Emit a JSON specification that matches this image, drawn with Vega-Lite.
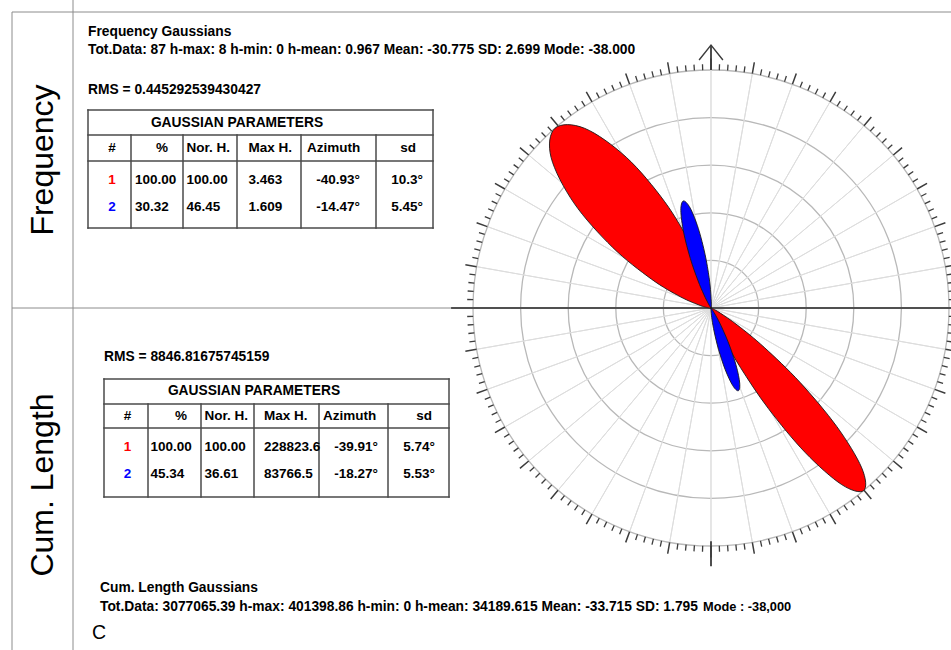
{
  "$schema": "https://vega.github.io/schema/vega-lite/v6.json",
  "width": 951,
  "height": 650,
  "padding": 0,
  "autosize": {"type": "none"},
  "background": "#ffffff",
  "config": {"view": {"stroke": null}, "text": {"font": "Liberation Sans", "color": "#000000"}},
  "datasets": {
    "frame": [
      {"x0": 0, "x1": 0, "y0": 1, "y1": 3},
      {"x0": 1, "x1": 1, "y0": 0, "y1": 3},
      {"x0": 0, "x1": 2, "y0": 1, "y1": 1},
      {"x0": 0, "x1": 2, "y0": 2, "y1": 2}
    ],
    "rings": [{"r": 20}, {"r": 40}, {"r": 60}, {"r": 80}, {"r": 100}],
    "angles": [
      {"a":0},{"a":2},{"a":4},{"a":6},{"a":8},{"a":10},{"a":12},{"a":14},{"a":16},{"a":18},
      {"a":20},{"a":22},{"a":24},{"a":26},{"a":28},{"a":30},{"a":32},{"a":34},{"a":36},{"a":38},
      {"a":40},{"a":42},{"a":44},{"a":46},{"a":48},{"a":50},{"a":52},{"a":54},{"a":56},{"a":58},
      {"a":60},{"a":62},{"a":64},{"a":66},{"a":68},{"a":70},{"a":72},{"a":74},{"a":76},{"a":78},
      {"a":80},{"a":82},{"a":84},{"a":86},{"a":88},{"a":90},{"a":92},{"a":94},{"a":96},{"a":98},
      {"a":100},{"a":102},{"a":104},{"a":106},{"a":108},{"a":110},{"a":112},{"a":114},{"a":116},{"a":118},
      {"a":120},{"a":122},{"a":124},{"a":126},{"a":128},{"a":130},{"a":132},{"a":134},{"a":136},{"a":138},
      {"a":140},{"a":142},{"a":144},{"a":146},{"a":148},{"a":150},{"a":152},{"a":154},{"a":156},{"a":158},
      {"a":160},{"a":162},{"a":164},{"a":166},{"a":168},{"a":170},{"a":172},{"a":174},{"a":176},{"a":178},
      {"a":180},{"a":182},{"a":184},{"a":186},{"a":188},{"a":190},{"a":192},{"a":194},{"a":196},{"a":198},
      {"a":200},{"a":202},{"a":204},{"a":206},{"a":208},{"a":210},{"a":212},{"a":214},{"a":216},{"a":218},
      {"a":220},{"a":222},{"a":224},{"a":226},{"a":228},{"a":230},{"a":232},{"a":234},{"a":236},{"a":238},
      {"a":240},{"a":242},{"a":244},{"a":246},{"a":248},{"a":250},{"a":252},{"a":254},{"a":256},{"a":258},
      {"a":260},{"a":262},{"a":264},{"a":266},{"a":268},{"a":270},{"a":272},{"a":274},{"a":276},{"a":278},
      {"a":280},{"a":282},{"a":284},{"a":286},{"a":288},{"a":290},{"a":292},{"a":294},{"a":296},{"a":298},
      {"a":300},{"a":302},{"a":304},{"a":306},{"a":308},{"a":310},{"a":312},{"a":314},{"a":316},{"a":318},
      {"a":320},{"a":322},{"a":324},{"a":326},{"a":328},{"a":330},{"a":332},{"a":334},{"a":336},{"a":338},
      {"a":340},{"a":342},{"a":344},{"a":346},{"a":348},{"a":350},{"a":352},{"a":354},{"a":356},{"a":358}
    ],
    "arrow": [
      {"i": 0, "x": -5.0, "y": 104.2},
      {"i": 1, "x": 0.0, "y": 110.5},
      {"i": 2, "x": 5.0, "y": 104.2}
    ],
    "axisLine": [{"x0": -109.2, "x1": 100.84}],
    "petals": [
      {"p":"f1","i":0,"x":0,"y":0},
      {"p":"f1","i":1,"x":-1.105,"y":0.108},
      {"p":"f1","i":2,"x":-4.281,"y":0.974},
      {"p":"f1","i":3,"x":-12.709,"y":4.643},
      {"p":"f1","i":4,"x":-25.01,"y":12.13},
      {"p":"f1","i":5,"x":-41.43,"y":25.56},
      {"p":"f1","i":6,"x":-57.63,"y":44.17},
      {"p":"f1","i":7,"x":-67.20,"y":63.29},
      {"p":"f1","i":8,"x":-65.52,"y":75.54},
      {"p":"f1","i":9,"x":-53.12,"y":75.50},
      {"p":"f1","i":10,"x":-35.56,"y":63.30},
      {"p":"f1","i":11,"x":-19.44,"y":44.63},
      {"p":"f1","i":12,"x":-8.465,"y":26.48},
      {"p":"f1","i":13,"x":-2.797,"y":13.238},
      {"p":"f1","i":14,"x":-0.358,"y":4.375},
      {"p":"f1","i":15,"x":0.050,"y":1.109},
      {"p":"f2","i":0,"x":0,"y":0},
      {"p":"f2","i":1,"x":-0.295,"y":0.423},
      {"p":"f2","i":2,"x":-1.065,"y":1.739},
      {"p":"f2","i":3,"x":-2.957,"y":5.546},
      {"p":"f2","i":4,"x":-5.527,"y":11.667},
      {"p":"f2","i":5,"x":-8.700,"y":20.869},
      {"p":"f2","i":6,"x":-11.485,"y":31.713},
      {"p":"f2","i":7,"x":-12.671,"y":40.963},
      {"p":"f2","i":8,"x":-11.608,"y":44.977},
      {"p":"f2","i":9,"x":-8.730,"y":41.980},
      {"p":"f2","i":10,"x":-5.292,"y":33.312},
      {"p":"f2","i":11,"x":-2.485,"y":22.472},
      {"p":"f2","i":12,"x":-0.808,"y":12.884},
      {"p":"f2","i":13,"x":-0.096,"y":6.284},
      {"p":"f2","i":14,"x":0.090,"y":2.037},
      {"p":"f2","i":15,"x":0.053,"y":0.513},
      {"p":"c1","i":0,"x":0,"y":0},
      {"p":"c1","i":1,"x":1.009,"y":-0.462},
      {"p":"c1","i":2,"x":3.845,"y":-2.118},
      {"p":"c1","i":3,"x":11.337,"y":-7.385},
      {"p":"c1","i":4,"x":22.35,"y":-16.54},
      {"p":"c1","i":5,"x":37.36,"y":-31.20},
      {"p":"c1","i":6,"x":52.85,"y":-49.80},
      {"p":"c1","i":7,"x":63.32,"y":-67.16},
      {"p":"c1","i":8,"x":64.16,"y":-76.70},
      {"p":"c1","i":9,"x":54.92,"y":-74.20},
      {"p":"c1","i":10,"x":39.67,"y":-60.82},
      {"p":"c1","i":11,"x":24.13,"y":-42.28},
      {"p":"c1","i":12,"x":12.32,"y":-24.92},
      {"p":"c1","i":13,"x":5.267,"y":-12.462},
      {"p":"c1","i":14,"x":1.405,"y":-4.159},
      {"p":"c1","i":15,"x":0.276,"y":-1.075},
      {"p":"c2","i":0,"x":0,"y":0},
      {"p":"c2","i":1,"x":0.250,"y":-0.320},
      {"p":"c2","i":2,"x":0.917,"y":-1.320},
      {"p":"c2","i":3,"x":2.586,"y":-4.224},
      {"p":"c2","i":4,"x":4.909,"y":-8.919},
      {"p":"c2","i":5,"x":7.864,"y":-15.992},
      {"p":"c2","i":6,"x":10.621,"y":-24.366},
      {"p":"c2","i":7,"x":12.063,"y":-31.573},
      {"p":"c2","i":8,"x":11.477,"y":-34.765},
      {"p":"c2","i":9,"x":9.106,"y":-32.549},
      {"p":"c2","i":10,"x":5.975,"y":-25.900},
      {"p":"c2","i":11,"x":3.202,"y":-17.530},
      {"p":"c2","i":12,"x":1.366,"y":-10.088},
      {"p":"c2","i":13,"x":0.438,"y":-4.934},
      {"p":"c2","i":14,"x":0.050,"y":-1.606},
      {"p":"c2","i":15,"x":-0.011,"y":-0.406}
    ],
    "tableGrid": [
      {"x0": 0, "x1": 6, "y0": 0, "y1": 0},
      {"x0": 0, "x1": 6, "y0": 1, "y1": 1},
      {"x0": 0, "x1": 6, "y0": 2, "y1": 2},
      {"x0": 0, "x1": 6, "y0": 3, "y1": 3},
      {"x0": 0, "x1": 0, "y0": 0, "y1": 3},
      {"x0": 6, "x1": 6, "y0": 0, "y1": 3},
      {"x0": 1, "x1": 1, "y0": 1, "y1": 3},
      {"x0": 2, "x1": 2, "y0": 1, "y1": 3},
      {"x0": 3, "x1": 3, "y0": 1, "y1": 3},
      {"x0": 4, "x1": 4, "y0": 1, "y1": 3},
      {"x0": 5, "x1": 5, "y0": 1, "y1": 3}
    ],
    "cells": [
      {"tb":"f","r":0,"c":3,"t":"GAUSSIAN PARAMETERS"},
      {"tb":"f","r":1,"c":0,"t":"#"},
      {"tb":"f","r":1,"c":1,"t":"%"},
      {"tb":"f","r":1,"c":2,"t":"Nor. H."},
      {"tb":"f","r":1,"c":3,"t":"Max H."},
      {"tb":"f","r":1,"c":4,"t":"Azimuth"},
      {"tb":"f","r":1,"c":5,"t":"sd"},
      {"tb":"f","r":2,"c":0,"t":"1"},
      {"tb":"f","r":2,"c":1,"t":"100.00"},
      {"tb":"f","r":2,"c":2,"t":"100.00"},
      {"tb":"f","r":2,"c":3,"t":"3.463"},
      {"tb":"f","r":2,"c":4,"t":"-40.93°"},
      {"tb":"f","r":2,"c":5,"t":"10.3°"},
      {"tb":"f","r":3,"c":0,"t":"2"},
      {"tb":"f","r":3,"c":1,"t":"30.32"},
      {"tb":"f","r":3,"c":2,"t":"46.45"},
      {"tb":"f","r":3,"c":3,"t":"1.609"},
      {"tb":"f","r":3,"c":4,"t":"-14.47°"},
      {"tb":"f","r":3,"c":5,"t":"5.45°"},
      {"tb":"c","r":0,"c":3,"t":"GAUSSIAN PARAMETERS"},
      {"tb":"c","r":1,"c":0,"t":"#"},
      {"tb":"c","r":1,"c":1,"t":"%"},
      {"tb":"c","r":1,"c":2,"t":"Nor. H."},
      {"tb":"c","r":1,"c":3,"t":"Max H."},
      {"tb":"c","r":1,"c":4,"t":"Azimuth"},
      {"tb":"c","r":1,"c":5,"t":"sd"},
      {"tb":"c","r":2,"c":0,"t":"1"},
      {"tb":"c","r":2,"c":1,"t":"100.00"},
      {"tb":"c","r":2,"c":2,"t":"100.00"},
      {"tb":"c","r":2,"c":3,"t":"228823.6"},
      {"tb":"c","r":2,"c":4,"t":"-39.91°"},
      {"tb":"c","r":2,"c":5,"t":"5.74°"},
      {"tb":"c","r":3,"c":0,"t":"2"},
      {"tb":"c","r":3,"c":1,"t":"45.34"},
      {"tb":"c","r":3,"c":2,"t":"36.61"},
      {"tb":"c","r":3,"c":3,"t":"83766.5"},
      {"tb":"c","r":3,"c":4,"t":"-18.27°"},
      {"tb":"c","r":3,"c":5,"t":"5.53°"}
    ],
    "notes": [
      {"n":0,"t":"Frequency Gaussians"},
      {"n":1,"t":"Tot.Data: 87 h-max: 8 h-min: 0 h-mean: 0.967 Mean: -30.775 SD: 2.699  Mode: -38.000"},
      {"n":2,"t":"RMS = 0.445292539430427"},
      {"n":3,"t":"RMS = 8846.81675745159"},
      {"n":4,"t":"Cum. Length Gaussians"},
      {"n":5,"t":"Tot.Data: 3077065.39 h-max: 401398.86 h-min: 0 h-mean: 34189.615 Mean: -33.715  SD: 1.795"},
      {"n":6,"t":"Mode : -38,000"},
      {"n":7,"t":"C"},
      {"n":8,"t":"Frequency"},
      {"n":9,"t":"Cum. Length"}
    ]
  },
  "layer": [
    {
      "data": {"name": "frame"},
      "mark": {"type": "rule", "color": "#8c8c8c", "strokeWidth": 1},
      "encoding": {
        "x": {"field": "x0", "type": "quantitative", "scale": {"domain": [0, 1, 2], "range": [12, 73, 951], "nice": false, "zero": false}, "axis": null},
        "x2": {"field": "x1"},
        "y": {"field": "y0", "type": "quantitative", "scale": {"domain": [0, 1, 2, 3], "range": [0, 12, 308, 650], "nice": false, "zero": false}, "axis": null},
        "y2": {"field": "y1"}
      }
    },
    {
      "layer": [
        {
          "data": {"name": "rings"},
          "mark": {"type": "arc", "filled": false, "stroke": "#b8b8b8", "strokeWidth": 1.3},
          "encoding": {
            "x": {"datum": 0, "type": "quantitative", "scale": {"domain": [-298.74, 100.84], "nice": false, "zero": false}, "axis": null},
            "y": {"datum": 0, "type": "quantitative", "scale": {"domain": [-143.70, 129.41], "nice": false, "zero": false}, "axis": null},
            "theta": {"datum": 0, "type": "quantitative", "scale": {"domain": [0, 360], "range": [0, 6.283185307179586], "nice": false, "zero": false}},
            "theta2": {"datum": 360},
            "radius": {"field": "r", "type": "quantitative", "stack": null, "scale": {"type": "linear", "domain": [0, 100], "range": [0, 238], "nice": false, "zero": false}}
          }
        },
        {
          "data": {"name": "angles"},
          "transform": [{"filter": "datum.a % 10 == 0"}],
          "mark": {"type": "arc", "filled": false, "stroke": "#dddddd", "strokeWidth": 1},
          "encoding": {
            "x": {"datum": 0, "type": "quantitative", "scale": {"domain": [-298.74, 100.84], "nice": false, "zero": false}, "axis": null},
            "y": {"datum": 0, "type": "quantitative", "scale": {"domain": [-143.70, 129.41], "nice": false, "zero": false}, "axis": null},
            "theta": {"field": "a", "type": "quantitative", "stack": null, "scale": {"domain": [0, 360], "range": [0, 6.283185307179586], "nice": false, "zero": false}},
            "theta2": {"field": "a"},
            "radius": {"datum": 100, "type": "quantitative", "scale": {"type": "linear", "domain": [0, 100], "range": [0, 238], "nice": false, "zero": false}},
            "radius2": {"datum": 0}
          }
        },
        {
          "data": {"name": "angles"},
          "transform": [{"filter": "datum.a % 10 != 0"}],
          "mark": {"type": "arc", "filled": false, "stroke": "#3c3c3c", "strokeWidth": 1.3},
          "encoding": {
            "x": {"datum": 0, "type": "quantitative", "scale": {"domain": [-298.74, 100.84], "nice": false, "zero": false}, "axis": null},
            "y": {"datum": 0, "type": "quantitative", "scale": {"domain": [-143.70, 129.41], "nice": false, "zero": false}, "axis": null},
            "theta": {"field": "a", "type": "quantitative", "stack": null, "scale": {"domain": [0, 360], "range": [0, 6.283185307179586], "nice": false, "zero": false}},
            "theta2": {"field": "a"},
            "radius": {"datum": 100, "type": "quantitative", "scale": {"type": "linear", "domain": [0, 100], "range": [0, 238], "nice": false, "zero": false}},
            "radius2": {"datum": 102.5}
          }
        },
        {
          "data": {"name": "angles"},
          "transform": [{"filter": "datum.a % 10 == 0"}],
          "mark": {"type": "arc", "filled": false, "stroke": "#3c3c3c", "strokeWidth": 1.5},
          "encoding": {
            "x": {"datum": 0, "type": "quantitative", "scale": {"domain": [-298.74, 100.84], "nice": false, "zero": false}, "axis": null},
            "y": {"datum": 0, "type": "quantitative", "scale": {"domain": [-143.70, 129.41], "nice": false, "zero": false}, "axis": null},
            "theta": {"field": "a", "type": "quantitative", "stack": null, "scale": {"domain": [0, 360], "range": [0, 6.283185307179586], "nice": false, "zero": false}},
            "theta2": {"field": "a"},
            "radius": {"datum": 100, "type": "quantitative", "scale": {"type": "linear", "domain": [0, 100], "range": [0, 238], "nice": false, "zero": false}},
            "radius2": {"datum": 104.8}
          }
        },
        {
          "data": {"values": [{"dir": "S", "a": 180, "r0": 98, "r1": 108.5}, {"dir": "N", "a": 0, "r0": 100, "r1": 110.5}]},
          "mark": {"type": "arc", "filled": false, "stroke": "#3c3c3c", "strokeWidth": 1.8},
          "encoding": {
            "x": {"datum": 0, "type": "quantitative", "scale": {"domain": [-298.74, 100.84], "nice": false, "zero": false}, "axis": null},
            "y": {"datum": 0, "type": "quantitative", "scale": {"domain": [-143.70, 129.41], "nice": false, "zero": false}, "axis": null},
            "theta": {"field": "a", "type": "quantitative", "stack": null, "scale": {"domain": [0, 360], "range": [0, 6.283185307179586], "nice": false, "zero": false}},
            "theta2": {"field": "a"},
            "radius": {"field": "r0", "type": "quantitative", "stack": null, "scale": {"type": "linear", "domain": [0, 100], "range": [0, 238], "nice": false, "zero": false}},
            "radius2": {"field": "r1"}
          }
        },
        {
          "data": {"name": "arrow"},
          "mark": {"type": "line", "stroke": "#3c3c3c", "strokeWidth": 1.4},
          "encoding": {
            "x": {"field": "x", "type": "quantitative", "scale": {"domain": [-298.74, 100.84], "nice": false, "zero": false}, "axis": null},
            "y": {"field": "y", "type": "quantitative", "scale": {"domain": [-143.70, 129.41], "nice": false, "zero": false}, "axis": null},
            "order": {"field": "i", "type": "quantitative"}
          }
        },
        {
          "data": {"name": "axisLine"},
          "mark": {"type": "rule", "color": "#505050", "strokeWidth": 2},
          "encoding": {
            "x": {"field": "x0", "type": "quantitative", "scale": {"domain": [-298.74, 100.84], "nice": false, "zero": false}, "axis": null},
            "x2": {"field": "x1"},
            "y": {"datum": 0, "type": "quantitative", "scale": {"domain": [-143.70, 129.41], "nice": false, "zero": false}, "axis": null}
          }
        },
        {
          "data": {"name": "petals"},
          "transform": [{"filter": "datum.p == 'f1' || datum.p == 'c1'"}],
          "mark": {"type": "line", "interpolate": "cardinal-closed", "fill": "#ff0000", "stroke": "#1a1a1a", "strokeWidth": 0.9},
          "encoding": {
            "x": {"field": "x", "type": "quantitative", "scale": {"domain": [-298.74, 100.84], "nice": false, "zero": false}, "axis": null},
            "y": {"field": "y", "type": "quantitative", "scale": {"domain": [-143.70, 129.41], "nice": false, "zero": false}, "axis": null},
            "detail": {"field": "p"},
            "order": {"field": "i", "type": "quantitative"}
          }
        },
        {
          "data": {"name": "petals"},
          "transform": [{"filter": "datum.p == 'f2' || datum.p == 'c2'"}],
          "mark": {"type": "line", "interpolate": "cardinal-closed", "fill": "#0000ff", "stroke": "#1a1a1a", "strokeWidth": 0.9},
          "encoding": {
            "x": {"field": "x", "type": "quantitative", "scale": {"domain": [-298.74, 100.84], "nice": false, "zero": false}, "axis": null},
            "y": {"field": "y", "type": "quantitative", "scale": {"domain": [-143.70, 129.41], "nice": false, "zero": false}, "axis": null},
            "detail": {"field": "p"},
            "order": {"field": "i", "type": "quantitative"}
          }
        }
      ]
    },
    {
      "data": {"name": "notes"},
      "encoding": {
        "x": {"field": "n", "type": "quantitative", "scale": {"domain": [0,1,2,3,4,5,6,7,8,9], "range": [88,88,88,104,100,100,703,92,43,43], "nice": false, "zero": false}, "axis": null},
        "y": {"field": "n", "type": "quantitative", "scale": {"domain": [0,1,2,3,4,5,6,7,8,9], "range": [32,50,90,357,588,607,607,633,160,485], "nice": false, "zero": false}, "axis": null},
        "text": {"field": "t"}
      },
      "layer": [
        {
          "transform": [{"filter": "datum.n <= 5"}],
          "mark": {"type": "text", "align": "left", "baseline": "middle", "fontSize": 13.8, "fontWeight": "bold"}
        },
        {
          "transform": [{"filter": "datum.n == 6"}],
          "mark": {"type": "text", "align": "left", "baseline": "middle", "fontSize": 12.8, "fontWeight": "bold"}
        },
        {
          "transform": [{"filter": "datum.n == 7"}],
          "mark": {"type": "text", "align": "left", "baseline": "middle", "fontSize": 19.5}
        },
        {
          "transform": [{"filter": "datum.n >= 8"}],
          "mark": {"type": "text", "align": "center", "baseline": "middle", "fontSize": 32, "angle": 270}
        }
      ]
    },
    {
      "layer": [
        {
          "data": {"name": "tableGrid"},
          "mark": {"type": "rule", "color": "#4a4a4a", "strokeWidth": 1.5, "strokeCap": "square"},
          "encoding": {
            "x": {"field": "x0", "type": "quantitative", "scale": {"domain": [0,1,2,3,4,5,6], "range": [88,131,183,237,301,376,433], "nice": false, "zero": false}, "axis": null},
            "x2": {"field": "x1"},
            "y": {"field": "y0", "type": "quantitative", "scale": {"domain": [0,1,2,3], "range": [110,135,161,228], "nice": false, "zero": false}, "axis": null},
            "y2": {"field": "y1"}
          }
        },
        {
          "data": {"name": "cells"},
          "transform": [{"filter": "datum.tb == 'f' && datum.r == 0"}],
          "mark": {"type": "text", "align": "center", "baseline": "middle", "fontSize": 13.8, "fontWeight": "bold"},
          "encoding": {
            "x": {"field": "c", "type": "quantitative", "scale": {"domain": [0,1,2,3,4,5,6], "range": [88,131,183,237,301,376,433], "nice": false, "zero": false}, "axis": null},
            "y": {"field": "r", "type": "quantitative", "scale": {"domain": [0,1,2,3], "range": [122.5,148,180,207], "nice": false, "zero": false}, "axis": null},
            "text": {"field": "t"}
          }
        },
        {
          "data": {"name": "cells"},
          "transform": [{"filter": "datum.tb == 'f' && ((datum.r == 1 && datum.c >= 2 && datum.c <= 4) || (datum.r >= 2 && datum.c >= 1 && datum.c <= 3))"}],
          "mark": {"type": "text", "align": "left", "baseline": "middle", "fontSize": 13.5, "fontWeight": "bold"},
          "encoding": {
            "x": {"field": "c", "type": "quantitative", "scale": {"domain": [1,2,3,4], "range": [135,186.5,248.5,307], "nice": false, "zero": false}, "axis": null},
            "y": {"field": "r", "type": "quantitative", "scale": {"domain": [0,1,2,3], "range": [122.5,148,180,207], "nice": false, "zero": false}, "axis": null},
            "text": {"field": "t"}
          }
        },
        {
          "data": {"name": "cells"},
          "transform": [{"filter": "datum.tb == 'f' && ((datum.r == 1 && datum.c == 1) || (datum.r >= 2 && datum.c >= 4))"}],
          "mark": {"type": "text", "align": "right", "baseline": "middle", "fontSize": 13.5, "fontWeight": "bold"},
          "encoding": {
            "x": {"field": "c", "type": "quantitative", "scale": {"domain": [1,4,5], "range": [168,360,423], "nice": false, "zero": false}, "axis": null},
            "y": {"field": "r", "type": "quantitative", "scale": {"domain": [0,1,2,3], "range": [122.5,148,180,207], "nice": false, "zero": false}, "axis": null},
            "text": {"field": "t"}
          }
        },
        {
          "data": {"name": "cells"},
          "transform": [{"filter": "datum.tb == 'f' && datum.r >= 1 && (datum.c == 0 || (datum.r == 1 && datum.c == 5))"}],
          "mark": {"type": "text", "align": "center", "baseline": "middle", "fontSize": 13.5, "fontWeight": "bold"},
          "encoding": {
            "x": {"field": "c", "type": "quantitative", "scale": {"domain": [0,5], "range": [112,408], "nice": false, "zero": false}, "axis": null},
            "y": {"field": "r", "type": "quantitative", "scale": {"domain": [0,1,2,3], "range": [122.5,148,180,207], "nice": false, "zero": false}, "axis": null},
            "text": {"field": "t"},
            "color": {"condition": {"test": "datum.r >= 2", "field": "t", "type": "nominal", "scale": {"domain": ["1","2"], "range": ["#ff0000","#0000ff"]}, "legend": null}, "value": "#000000"}
          }
        }
      ],
      "resolve": {"scale": {"x": "independent", "y": "independent"}}
    },
    {
      "layer": [
        {
          "data": {"name": "tableGrid"},
          "mark": {"type": "rule", "color": "#4a4a4a", "strokeWidth": 1.5, "strokeCap": "square"},
          "encoding": {
            "x": {"field": "x0", "type": "quantitative", "scale": {"domain": [0,1,2,3,4,5,6], "range": [104,148,201,254,319,388,449], "nice": false, "zero": false}, "axis": null},
            "x2": {"field": "x1"},
            "y": {"field": "y0", "type": "quantitative", "scale": {"domain": [0,1,2,3], "range": [379,404,428,497], "nice": false, "zero": false}, "axis": null},
            "y2": {"field": "y1"}
          }
        },
        {
          "data": {"name": "cells"},
          "transform": [{"filter": "datum.tb == 'c' && datum.r == 0"}],
          "mark": {"type": "text", "align": "center", "baseline": "middle", "fontSize": 13.8, "fontWeight": "bold"},
          "encoding": {
            "x": {"field": "c", "type": "quantitative", "scale": {"domain": [0,1,2,3,4,5,6], "range": [104,148,201,254,319,388,449], "nice": false, "zero": false}, "axis": null},
            "y": {"field": "r", "type": "quantitative", "scale": {"domain": [0,1,2,3], "range": [391,416,447,474], "nice": false, "zero": false}, "axis": null},
            "text": {"field": "t"}
          }
        },
        {
          "data": {"name": "cells"},
          "transform": [{"filter": "datum.tb == 'c' && ((datum.r == 1 && datum.c >= 2 && datum.c <= 4) || (datum.r >= 2 && datum.c >= 1 && datum.c <= 3))"}],
          "mark": {"type": "text", "align": "left", "baseline": "middle", "fontSize": 13.5, "fontWeight": "bold"},
          "encoding": {
            "x": {"field": "c", "type": "quantitative", "scale": {"domain": [1,2,3,4], "range": [150.5,204.5,264,323], "nice": false, "zero": false}, "axis": null},
            "y": {"field": "r", "type": "quantitative", "scale": {"domain": [0,1,2,3], "range": [391,416,447,474], "nice": false, "zero": false}, "axis": null},
            "text": {"field": "t"}
          }
        },
        {
          "data": {"name": "cells"},
          "transform": [{"filter": "datum.tb == 'c' && ((datum.r == 1 && datum.c == 1) || (datum.r >= 2 && datum.c >= 4))"}],
          "mark": {"type": "text", "align": "right", "baseline": "middle", "fontSize": 13.5, "fontWeight": "bold"},
          "encoding": {
            "x": {"field": "c", "type": "quantitative", "scale": {"domain": [1,4,5], "range": [187,378,435], "nice": false, "zero": false}, "axis": null},
            "y": {"field": "r", "type": "quantitative", "scale": {"domain": [0,1,2,3], "range": [391,416,447,474], "nice": false, "zero": false}, "axis": null},
            "text": {"field": "t"}
          }
        },
        {
          "data": {"name": "cells"},
          "transform": [{"filter": "datum.tb == 'c' && datum.r >= 1 && (datum.c == 0 || (datum.r == 1 && datum.c == 5))"}],
          "mark": {"type": "text", "align": "center", "baseline": "middle", "fontSize": 13.5, "fontWeight": "bold"},
          "encoding": {
            "x": {"field": "c", "type": "quantitative", "scale": {"domain": [0,5], "range": [127.5,424], "nice": false, "zero": false}, "axis": null},
            "y": {"field": "r", "type": "quantitative", "scale": {"domain": [0,1,2,3], "range": [391,416,447,474], "nice": false, "zero": false}, "axis": null},
            "text": {"field": "t"},
            "color": {"condition": {"test": "datum.r >= 2", "field": "t", "type": "nominal", "scale": {"domain": ["1","2"], "range": ["#ff0000","#0000ff"]}, "legend": null}, "value": "#000000"}
          }
        }
      ],
      "resolve": {"scale": {"x": "independent", "y": "independent"}}
    }
  ],
  "resolve": {"scale": {"x": "independent", "y": "independent"}}
}
